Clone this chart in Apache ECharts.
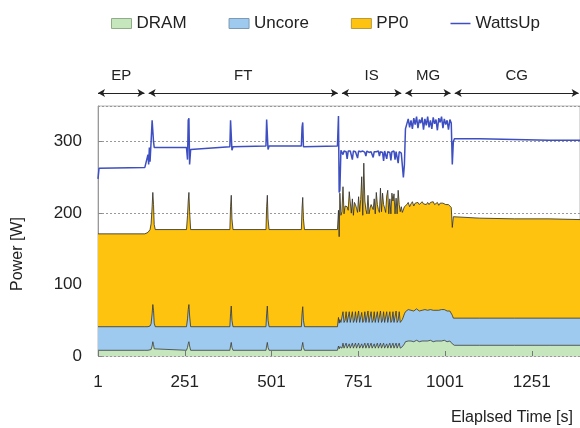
<!DOCTYPE html>
<html>
<head>
<meta charset="utf-8">
<script src="https://cdn.jsdelivr.net/npm/echarts@6/dist/echarts.min.js"></script>
<style>
  html, body { margin: 0; padding: 0; background: #fff; }
  #chart { width: 580px; height: 428px; }
</style>
</head>
<body>
<div id="chart"></div>
<script>
// elapsed time [s] (0 = first sample, shown as "1")
var time = [
  0, 3, 135,
  140, 144, 146, 148, 150, 153, 156, 158, 160, 162, 165,
  255, 258, 260, 262, 264, 267,
  380, 382, 384, 386, 389,
  484, 486, 488, 490, 493,
  586, 588, 590, 592, 595,
  690, 693, 695, 697, 700,
  703, 706, 709, 712, 715, 718, 721, 724, 727, 730,
  733, 736, 739, 742, 745, 748, 751, 754, 757, 760,
  763, 766, 769, 772, 775, 778, 781, 784, 787, 790,
  793, 796, 799, 802, 805, 808, 811, 814, 817, 820,
  823, 826, 829, 832, 835, 838, 841, 844, 847, 850,
  853, 856, 859, 862, 865, 868, 871, 874, 877,
  880, 883, 886,
  890, 894, 898, 902, 906, 910, 914, 918, 922, 926,
  930, 934, 938, 942, 946, 950, 954, 958, 962, 966,
  970, 974, 978, 982, 986, 990, 994, 998, 1002, 1006,
  1010, 1014, 1018,
  1021, 1024, 1027,
  1100, 1200, 1300, 1389
];
var dram = [
  8, 8, 8,
  8, 8, 8, 8, 8, 9, 14, 20, 16, 10, 8,
  8, 12, 17, 20, 14, 8,
  8, 14, 19, 12, 8,
  8, 14, 19, 12, 8,
  8, 14, 19, 12, 8,
  8, 14, 10, 13, 11,
  11, 18, 11, 12, 18, 11, 12, 17, 11, 12,
  18, 11, 12, 18, 11, 12, 18, 11, 12, 17,
  11, 12, 18, 11, 12, 18, 11, 12, 18, 11,
  12, 17, 11, 12, 18, 11, 12, 18, 11, 12,
  18, 11, 12, 17, 11, 12, 18, 11, 12, 18,
  11, 12, 18, 11, 12, 18, 11, 12, 13,
  12, 17, 20,
  21, 21, 20, 21, 21, 20, 21, 22, 21, 20,
  21, 21, 22, 21, 20, 21, 21, 22, 21, 20,
  21, 21, 22, 21, 20, 21, 21, 22, 21, 20,
  21, 21, 20,
  17, 15, 15,
  15, 15, 15, 15
];
var uncore = [
  33, 33, 33,
  33, 33, 33, 33, 34, 36, 45, 52, 48, 36, 33,
  33, 40, 48, 52, 42, 33,
  33, 45, 51, 38, 33,
  33, 45, 51, 38, 33,
  33, 45, 50, 38, 33,
  33, 40, 36, 38, 36,
  36, 44, 36, 38, 44, 36, 37, 45, 36, 36,
  44, 36, 38, 44, 36, 37, 45, 36, 37, 44,
  36, 38, 44, 36, 37, 45, 36, 37, 44, 36,
  38, 45, 36, 37, 44, 36, 37, 45, 36, 38,
  44, 36, 37, 45, 36, 37, 44, 36, 38, 44,
  36, 37, 45, 36, 38, 44, 36, 37, 38,
  38, 42, 42,
  43, 44, 43, 43, 44, 43, 43, 44, 43, 43,
  44, 43, 43, 44, 43, 43, 44, 43, 43, 44,
  43, 43, 44, 43, 43, 44, 43, 43, 44, 43,
  43, 42, 42,
  40, 38, 38,
  38, 38, 38, 38
];
var pp0 = [
  130, 130, 130,
  131, 132, 133, 134, 135, 140, 150, 157, 148, 138, 136,
  136, 145, 152, 157, 146, 136,
  136, 150, 155, 142, 136,
  136, 150, 155, 142, 136,
  136, 148, 153, 142, 136,
  136, 150, 121, 177, 150,
  155, 175, 152, 160, 150, 162, 155, 168, 185, 152,
  158, 150, 165, 150, 160, 152, 160, 155, 170, 190,
  150, 220, 155, 158, 150, 162, 152, 158, 150, 165,
  155, 158, 152, 180, 150, 158, 152, 172, 155, 178,
  150, 160, 152, 162, 185, 150, 158, 152, 178, 155,
  180, 150, 158, 152, 182, 150, 155, 160, 150,
  150, 150, 148,
  148, 150, 146, 149, 151, 147, 150, 148, 151, 149,
  147, 152, 148, 150, 149, 151, 147, 150, 149, 152,
  148, 150, 149, 147, 151, 148, 150, 149, 147, 150,
  148, 149, 146,
  123, 142, 141,
  140, 139, 139, 138
];
var wattsUp = [
  248, 263, 264,
  266, 282, 268, 292, 272, 300, 330, 331, 300, 292, 292,
  292, 275, 330, 333, 268, 289,
  293, 330, 328, 288, 293,
  294, 331, 329, 289, 294,
  294, 320, 327, 293, 294,
  294, 336, 229, 232, 288,
  286, 282, 287, 285, 286, 276, 287, 285, 287, 286,
  275, 287, 286, 286, 285, 277, 287, 286, 286, 285,
  287, 286, 285, 280, 287, 286, 285, 287, 286, 287,
  278, 286, 287, 286, 285, 287, 280, 286, 287, 285,
  273, 287, 286, 276, 286, 287, 285, 274, 286, 285,
  287, 275, 286, 285, 270, 286, 287, 284, 285,
  250, 268, 318,
  325, 332, 320, 330, 318, 333, 324, 335, 319, 331,
  326, 334, 317, 332, 323, 335, 320, 330, 318, 334,
  325, 331, 316, 333, 327, 335, 319, 332, 324, 330,
  317, 331, 326,
  268, 300, 304,
  304, 303, 302, 302
];

var phaseNames = ['EP', 'FT', 'IS', 'MG', 'CG'];
var phaseBounds = [0, 140, 697, 880, 1022, 1389];

var font = "'Liberation Sans', Arial, sans-serif";
var chart = echarts.init(document.getElementById('chart'));

// stacked tops (drawn back to front instead of using echarts stack)
var uncoreTop = dram.map(function (d, i) { return d + uncore[i]; });
var pp0Top = uncoreTop.map(function (u, i) { return u + pp0[i]; });

function pairs(vals) {
    return time.map(function (t, i) { return [t, vals[i]]; });
}

// double headed arrows above the plot, one per phase
var arrows = phaseNames.map(function (name, i) {
    var s = phaseBounds[i] + (i > 0 ? 6 : 0);
    var e = phaseBounds[i + 1] - (i < phaseNames.length - 1 ? 6 : 4);
    return [{ name: name, coord: [s, 0.5] }, { coord: [e, 0.5] }];
});

var colors = {
    dram: '#c6e6bd',
    uncore: '#9fcaef',
    pp0: '#fdc30e',
    watts: '#3d4fc2'
};

chart.setOption({
    animation: false,
    textStyle: { fontFamily: font, color: '#222' },
    legend: {
        left: 106,
        top: 10,
        itemWidth: 20,
        itemHeight: 10,
        itemGap: 42,
        textStyle: { fontSize: 17, color: '#222', fontFamily: font },
        data: [
            { name: 'DRAM', icon: 'rect', itemStyle: { color: colors.dram, borderColor: '#8fae88', borderWidth: 1 } },
            { name: 'Uncore', icon: 'rect', itemStyle: { color: colors.uncore, borderColor: '#7d9ab4', borderWidth: 1 } },
            { name: 'PP0', icon: 'rect', itemStyle: { color: colors.pp0, borderColor: '#b99a3a', borderWidth: 1 } },
            { name: 'WattsUp', icon: 'path://M0,0H20V1.5H0Z', itemStyle: { color: colors.watts } }
        ]
    },
    grid: [
        { left: 98, right: 0, top: 106, bottom: 72, show: true, borderColor: '#b8b8b8', borderWidth: 1 },
        { left: 98, right: 0, top: 92, height: 2 }
    ],
    xAxis: [{
        type: 'value',
        gridIndex: 0,
        min: 0,
        max: 1389,
        interval: 250,
        z: 6,
        axisLine: { show: false },
        axisTick: { inside: true, length: 5, lineStyle: { color: '#777' } },
        axisLabel: {
            formatter: function (v) { return String(v + 1); },
            showMaxLabel: false,
            margin: 18,
            fontSize: 17,
            color: '#222'
        },
        splitLine: { show: false }
    }, {
        type: 'value', gridIndex: 1, min: 0, max: 1389, show: false
    }],
    yAxis: [{
        type: 'value',
        gridIndex: 0,
        min: 0,
        max: 350,
        interval: 100,
        axisLine: { show: true, lineStyle: { color: '#999' } },
        axisTick: { show: true, inside: true, length: 4, lineStyle: { color: '#888' } },
        axisLabel: { showMaxLabel: false, margin: 16, fontSize: 17, color: '#222' },
        splitLine: { lineStyle: { color: '#999', type: [2, 2] } }
    }, {
        type: 'value', gridIndex: 1, min: 0, max: 1, show: false
    }],
    graphic: [{
        type: 'text',
        x: 18,
        y: 254,
        rotation: Math.PI / 2,
        style: { text: 'Power [W]', fontSize: 16, fontFamily: font, fill: '#222', align: 'center', verticalAlign: 'middle' }
    }, {
        type: 'text',
        x: 573,
        y: 418,
        style: { text: 'Elaplsed Time [s]', fontSize: 16, fontFamily: font, fill: '#222', align: 'right', verticalAlign: 'middle' }
    }],
    series: [{
        name: 'PP0',
        type: 'line',
        symbol: 'none',
        data: pairs(pp0Top),
        z: 2,
        lineStyle: { color: '#2a2a2a', width: 0.8 },
        itemStyle: { color: colors.pp0 },
        areaStyle: { color: colors.pp0, opacity: 1 }
    }, {
        name: 'Uncore',
        type: 'line',
        symbol: 'none',
        data: pairs(uncoreTop),
        z: 3,
        lineStyle: { color: '#333', width: 0.8 },
        itemStyle: { color: colors.uncore },
        areaStyle: { color: colors.uncore, opacity: 1 }
    }, {
        name: 'DRAM',
        type: 'line',
        symbol: 'none',
        data: pairs(dram),
        z: 4,
        lineStyle: { color: '#3a3a3a', width: 0.8 },
        itemStyle: { color: colors.dram },
        areaStyle: { color: colors.dram, opacity: 1 }
    }, {
        name: 'WattsUp',
        type: 'line',
        symbol: 'none',
        data: pairs(wattsUp),
        z: 5,
        lineStyle: { color: colors.watts, width: 1.5 },
        itemStyle: { color: colors.watts }
    }, {
        type: 'line',
        xAxisIndex: 1,
        yAxisIndex: 1,
        symbol: 'none',
        data: [],
        markLine: {
            silent: true,
            symbol: ['arrow', 'arrow'],
            symbolSize: [6, 7],
            lineStyle: { color: '#222', width: 1, type: 'solid' },
            label: {
                position: 'insideMiddleTop',
                distance: 10,
                formatter: function (p) { return p.name; },
                fontSize: 15,
                fontFamily: font,
                color: '#222'
            },
            data: arrows
        }
    }]
});
</script>
</body>
</html>
